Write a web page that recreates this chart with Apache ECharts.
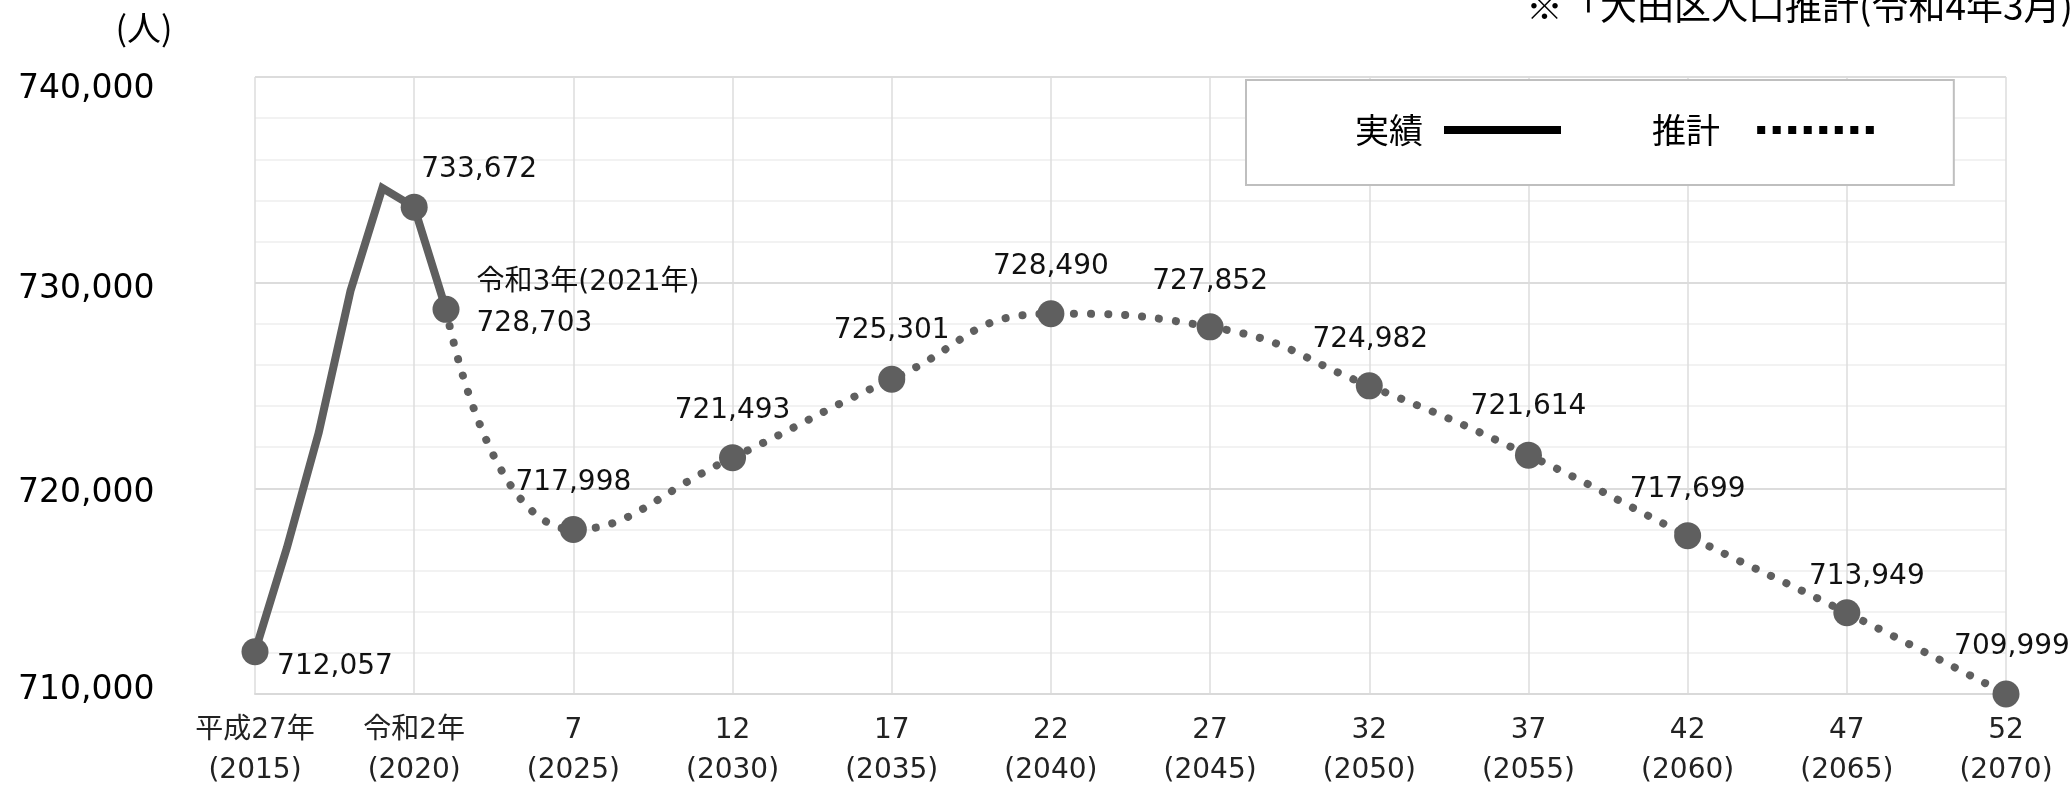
<!DOCTYPE html>
<html>
<head>
<meta charset="utf-8">
<script src="https://cdn.jsdelivr.net/npm/echarts@6/dist/echarts.min.js"></script>
<style>
  html, body { margin: 0; padding: 0; background: #fff; }
  #main { width: 2072px; height: 786px; }
</style>
</head>
<body>
<div id="main"></div>
<script>
var chartDom = document.getElementById('main');
var myChart = echarts.init(chartDom);

// x axis ticks (every 5 years) and their era labels
var tickYears = [2015, 2020, 2025, 2030, 2035, 2040, 2045, 2050, 2055, 2060, 2065, 2070];
var eraLabels = ['平成27年', '令和2年', '7', '12', '17', '22', '27', '32', '37', '42', '47', '52'];

// 実績 (yearly)
var actualYears = [2015, 2016, 2017, 2018, 2019, 2020, 2021];
var actualPop = [712057, 717100, 722700, 729600, 734600, 733672, 728703];
var actualMarked = [2015, 2020, 2021];

// 推計
var projYears = [2021, 2025, 2030, 2035, 2040, 2045, 2050, 2055, 2060, 2065, 2070];
var projPop = [728703, 717998, 721493, 725301, 728490, 727852, 724982, 721614, 717699, 713949, 709999];

var yTicks = [710000, 720000, 730000, 740000];

var NUM_FONT = "'DejaVu Sans', 'Noto Sans CJK JP', sans-serif";
var JP_FONT = "'Noto Sans CJK JP', sans-serif";
var GREY = '#5f5f5f';

// label placement, offset of the label centre from the point
var labelOffset = {
  2015: [80, 15], 2020: [65, -37], 2025: [0, -47], 2030: [0, -47],
  2035: [0, -49], 2040: [0, -47], 2045: [0, -45], 2050: [1, -46],
  2055: [0, -48], 2060: [0, -46], 2065: [20, -36], 2070: [6, -47]
};

// y labels sit a little off their gridlines in the original (padding top, bottom)
var yLabelPad = [[0, 8], [10, 0], [14, 0], [24, 0]];

function fmt(v) {
  return v.toLocaleString('en-US');
}

function pointLabel(year, value) {
  if (year === 2021) {
    return {
      show: true,
      position: 'right',
      distance: 17,
      offset: [0, -6],
      lineHeight: 41,
      formatter: '令和3年(2021年)\n' + fmt(value)
    };
  }
  return {
    show: true,
    position: 'inside',
    offset: labelOffset[year],
    formatter: fmt(value)
  };
}

var actualData = actualYears.map(function (y, i) {
  var marked = actualMarked.indexOf(y) > -1;
  return {
    value: [y, actualPop[i]],
    symbol: marked ? 'circle' : 'none',
    label: marked ? pointLabel(y, actualPop[i]) : { show: false }
  };
});

var projData = projYears.map(function (y, i) {
  var first = i === 0;
  return {
    value: [y, projPop[i]],
    symbol: first ? 'none' : 'circle',
    label: first ? { show: false } : pointLabel(y, projPop[i])
  };
});

// dotted legend icon: 8 squares
var dotPath = 'path://';
for (var k = 0; k < 8; k++) {
  var x0 = k * 1.94;
  dotPath += 'M' + x0 + ',0h1v1h-1z';
}

var yRich = {};
yTicks.forEach(function (t, i) {
  yRich['t' + i] = {
    fontFamily: NUM_FONT,
    fontSize: 33,
    color: '#000',
    padding: [yLabelPad[i][0], 0, yLabelPad[i][1], 0]
  };
});

var commonLabel = {
  fontFamily: NUM_FONT,
  fontSize: 28,
  color: '#111'
};

var option = {
  animation: false,
  backgroundColor: '#fff',
  grid: {
    left: 255,
    right: 66,
    top: 77,
    bottom: 92,
    containLabel: false,
    outerBoundsMode: 'none'
  },
  legend: {
    left: 1246,
    top: 80,
    orient: 'horizontal',
    align: 'right',
    selectedMode: false,
    backgroundColor: '#fff',
    borderColor: '#bfbfbf',
    borderWidth: 2,
    borderRadius: 0,
    padding: [30, 80, 35, 109],
    itemGap: 91,
    itemWidth: 117,
    itemHeight: 8,
    textStyle: {
      fontFamily: JP_FONT,
      fontSize: 34,
      lineHeight: 40,
      color: '#000',
      padding: [0, 16, 0, 0]
    },
    data: [
      { name: '実績', icon: 'rect', itemStyle: { color: '#000', borderWidth: 0 } },
      {
        name: '推計', icon: dotPath,
        itemStyle: { color: '#000', borderWidth: 0 },
        textStyle: { padding: [0, 32, 0, 0] }
      }
    ]
  },
  xAxis: {
    type: 'value',
    min: 2015,
    max: 2070,
    interval: 5,
    axisLine: { show: true, lineStyle: { color: '#d9d9d9', width: 2 } },
    axisTick: { show: false },
    splitLine: { show: true, lineStyle: { color: '#dcdcdc', width: 1.5 } },
    axisLabel: {
      margin: 17,
      fontFamily: NUM_FONT,
      fontSize: 28,
      lineHeight: 40,
      color: '#222',
      formatter: function (v) {
        var idx = tickYears.indexOf(v);
        return idx < 0 ? '' : eraLabels[idx] + '\n(' + v + ')';
      }
    }
  },
  yAxis: {
    type: 'value',
    min: yTicks[0],
    max: yTicks[yTicks.length - 1],
    interval: 10000,
    axisLine: { show: false },
    axisTick: { show: false },
    splitLine: { show: true, lineStyle: { color: '#dcdcdc', width: 2 } },
    minorTick: { show: false, splitNumber: 5 },
    minorSplitLine: { show: true, lineStyle: { color: '#eeeeee', width: 1.5 } },
    axisLabel: {
      align: 'left',
      margin: 237,
      fontFamily: NUM_FONT,
      fontSize: 33,
      color: '#000',
      rich: yRich,
      formatter: function (v) {
        var idx = yTicks.indexOf(v);
        return idx < 0 ? fmt(v) : '{t' + idx + '|' + fmt(v) + '}';
      }
    }
  },
  graphic: [
    {
      type: 'text',
      x: 144,
      y: 28,
      style: {
        text: '(人)',
        fontFamily: JP_FONT,
        fontSize: 34,
        fill: '#000',
        align: 'center',
        verticalAlign: 'middle'
      }
    },
    {
      type: 'text',
      x: 1526,
      y: 6,
      style: {
        text: '※「大田区人口推計(令和4年3月)」より',
        fontFamily: JP_FONT,
        fontSize: 37,
        fill: '#000',
        align: 'left',
        verticalAlign: 'middle'
      }
    }
  ],
  series: [
    {
      name: '推計',
      type: 'line',
      smooth: true,
      clip: false,
      showAllSymbol: true,
      symbolSize: 27,
      itemStyle: { color: GREY, borderWidth: 0 },
      lineStyle: { color: GREY, width: 8, type: [0.1, 17], cap: 'round' },
      label: commonLabel,
      emphasis: { disabled: true },
      data: projData,
      z: 2
    },
    {
      name: '実績',
      type: 'line',
      clip: false,
      showAllSymbol: true,
      symbolSize: 27,
      itemStyle: { color: GREY, borderWidth: 0 },
      lineStyle: { color: GREY, width: 8, join: 'miter' },
      label: commonLabel,
      emphasis: { disabled: true },
      data: actualData,
      z: 3
    }
  ]
};

option && myChart.setOption(option);
</script>
</body>
</html>
